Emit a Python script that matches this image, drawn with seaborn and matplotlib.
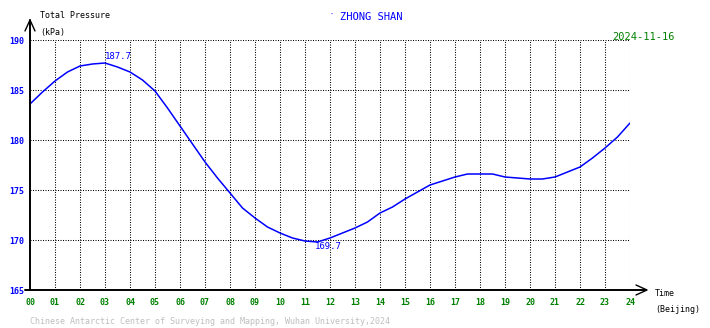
import matplotlib
matplotlib.use("Agg")
import matplotlib.pyplot as plt
import seaborn as sns
import pandas as pd
from matplotlib.lines import Line2D

hours = [0, 0.5, 1, 1.5, 2, 2.5, 3, 3.5, 4, 4.5, 5, 5.5, 6, 6.5, 7, 7.5, 8, 8.5,
         9, 9.5, 10, 10.5, 11, 11.5, 12, 12.5, 13, 13.5, 14, 14.5, 15, 15.5, 16,
         16.5, 17, 17.5, 18, 18.5, 19, 19.5, 20, 20.5, 21, 21.5, 22, 22.5, 23,
         23.5, 24]
pressure = [183.6, 184.8, 185.9, 186.8, 187.4, 187.6, 187.7, 187.3, 186.8, 186.0,
            184.9, 183.2, 181.4, 179.6, 177.8, 176.2, 174.7, 173.2, 172.2, 171.3,
            170.7, 170.2, 169.9, 169.8, 170.2, 170.7, 171.2, 171.8, 172.7, 173.3,
            174.1, 174.8, 175.5, 175.9, 176.3, 176.6, 176.6, 176.6, 176.3, 176.2,
            176.1, 176.1, 176.3, 176.8, 177.3, 178.2, 179.2, 180.3, 181.7]
xtick_labels = ["%02d" % h for h in range(25)]
ytick_values = [165, 170, 175, 180, 185, 190]
max_label = "187.7"
min_label = "169.7"

sns.set_style("white")
plt.rcParams['font.family'] = ['DejaVu Sans Mono', 'DejaVu Sans']

W, H = 710, 328
fig = plt.figure(figsize=(W / 100, H / 100), dpi=100)
ax = fig.add_axes([30 / W, 1 - 290 / H, 600 / W, 250 / H])

df = pd.DataFrame({"hour": hours, "pressure": pressure})
sns.lineplot(data=df, x="hour", y="pressure", ax=ax, color=(0, 0, 1), linewidth=1.1)

ax.set_xlim(0, 24)
ax.set_ylim(165, 190)
ax.set_xticks(range(25))
ax.set_xticklabels(xtick_labels)
ax.set_yticks(ytick_values)
ax.set_yticklabels([str(v) for v in ytick_values])
ax.set_xlabel("")
ax.set_ylabel("")
for s in ax.spines.values():
    s.set_visible(False)
ax.tick_params(axis='x', length=0, pad=5.5, labelsize=6, labelcolor=(0, 0.5, 0))
ax.tick_params(axis='y', length=0, pad=4, labelsize=6, labelcolor=(0, 0, 1))
for lbl in ax.get_xticklabels() + ax.get_yticklabels():
    lbl.set_fontweight('bold')

# dotted grid
for h in range(1, 25):
    ax.axvline(h, color='black', linewidth=0.75, linestyle=(0, (1, 1.4)), zorder=0)
for v in ytick_values[1:]:
    ax.axhline(v, color='black', linewidth=0.75, linestyle=(0, (1, 1.4)), zorder=0)

# axes with arrows (figure pixel coords)
def fl(xs, ys, lw=1.4):
    fig.add_artist(Line2D([x / W for x in xs], [1 - y / H for y in ys],
                          color='black', linewidth=lw, transform=fig.transFigure))

fl([30, 30], [290, 20])
fl([25, 30, 35], [31, 20, 31], lw=1.0)
fl([25, 646], [290, 290])
fl([636, 647, 636], [285, 290, 295], lw=1.0)

# extreme labels
ax.text(3.0, 188.4, max_label, color=(0, 0, 1), fontsize=6.5, ha='left', va='center')
ax.text(11.4, 169.4, min_label, color=(0, 0, 1), fontsize=6.5, ha='left', va='center')

def ft(x, y, s, color='black', size=6, ha='left'):
    fig.text(x / W, 1 - y / H, s, color=color, fontsize=size, ha=ha, va='center')

ft(40, 16, "Total Pressure")
ft(40, 33, "(kPa)")
ft(329, 15, "·", color=(0, 0, 1), size=5)
ft(340, 17, "ZHONG SHAN", color=(0, 0, 1), size=7.5)
ft(612, 37, "2024-11-16", color=(0, 0.5, 0), size=7.5)
ft(655, 294, "Time")
ft(655, 310, "(Beijing)")
ft(30, 321, "Chinese Antarctic Center of Surveying and Mapping, Wuhan University,2024",
   color=(0.75, 0.75, 0.75), size=6)

fig.savefig("out.png", dpi=100)
